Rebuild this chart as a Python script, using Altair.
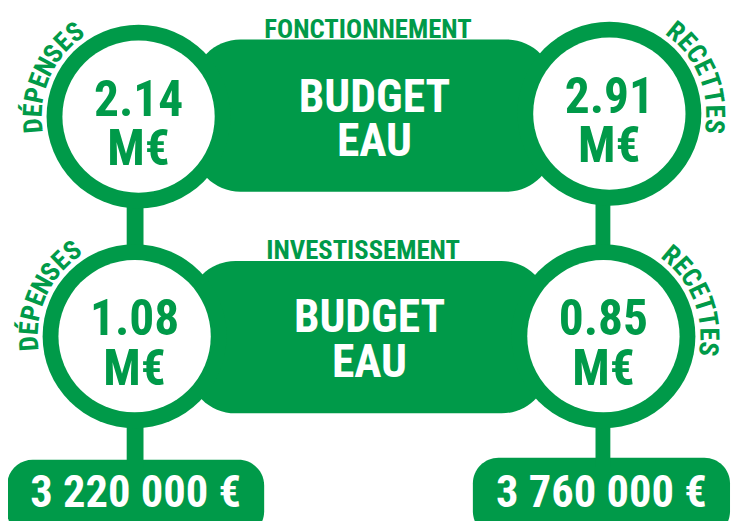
import math
import altair as alt
import pandas as pd

GREEN = "#009a49"
FONT = "Liberation Sans Narrow, Roboto Condensed, DejaVu Sans Condensed, sans-serif"

# ---- content ----
values = ["2.14", "2.91", "1.08", "0.85"]
unit = "M€"
side_words = ["DÉPENSES", "RECETTES", "DÉPENSES", "RECETTES"]
sections = ["FONCTIONNEMENT", "INVESTISSEMENT"]
budget_lines = ["BUDGET", "EAU"]
totals = ["3 220 000 €", "3 760 000 €"]

# ---- layout (screen pixels) ----
circle_cx = [140, 616, 136, 610]
circle_cy = [115, 112, 337, 337]
R_OUT, R_IN = 93, 77
arc_start = [265, 39, 266, 40]
arc_end = [323, 97, 324, 97]
ARC_R = 106

pill_x = [195, 190]
pill_x2 = [560, 555]
pill_y = [37, 261]
pill_y2 = [191, 415]

total_x = [7, 478]
total_x2 = [267, 738]
total_y = [462, 460]

conn = pd.DataFrame({
    "x": [128, 602, 128, 602],
    "x2": [145, 617, 145, 617],
    "y": [200, 200, 420, 420],
    "y2": [250, 250, 470, 470],
})

X = alt.Scale(domain=[8, 732], range=[0, 724], nice=False, zero=False)
Y = alt.Scale(domain=[8, 513], range=[0, 505], nice=False, zero=False)


def xy(df_x="x", df_y="y"):
    return dict(x=alt.X(f"{df_x}:Q", scale=X, axis=None),
                y=alt.Y(f"{df_y}:Q", scale=Y, axis=None))


pills = pd.DataFrame({"x": pill_x, "x2": pill_x2, "y": pill_y, "y2": pill_y2})
pill_layer = alt.Chart(pills).mark_rect(color=GREEN, cornerRadius=48).encode(
    **xy(), x2="x2:Q", y2="y2:Q")

tot = pd.DataFrame({"x": total_x, "x2": total_x2, "y": total_y,
                    "y2": [540, 540], "label": totals,
                    "tx": [(a + b) / 2 for a, b in zip(total_x, total_x2)],
                    "ty": [510, 510]})
tot_layer = alt.Chart(tot).mark_rect(color=GREEN, cornerRadius=26).encode(
    **xy(), x2="x2:Q", y2="y2:Q")
tot_text = alt.Chart(tot).mark_text(font=FONT, fontWeight="bold", fontSize=45,
                                    color="white", align="center",
                                    baseline="alphabetic").encode(
    **xy("tx", "ty"), text="label:N")

conn_layer = alt.Chart(conn).mark_rect(color=GREEN).encode(
    **xy(), x2="x2:Q", y2="y2:Q")

circ = pd.DataFrame({"x": circle_cx, "y": circle_cy, "value": values})
outer = alt.Chart(circ).mark_circle(color=GREEN, opacity=1,
                                    size=(2 * R_OUT) ** 2).encode(**xy())
inner = alt.Chart(circ).mark_circle(color="white", opacity=1,
                                    size=(2 * R_IN) ** 2).encode(**xy())

vals = pd.DataFrame({
    "x": circle_cx * 2,
    "y": [c - 1 for c in circle_cy] + [c + 49 for c in circle_cy],
    "t": values + [unit] * 4,
})
val_text = alt.Chart(vals).mark_text(font=FONT, fontWeight="bold", fontSize=50,
                                     color=GREEN, align="center",
                                     baseline="alphabetic").encode(
    **xy(), text="t:N")

bud = pd.DataFrame({
    "x": [(pill_x[0] + pill_x2[0]) / 2 + 1] * 2 + [(pill_x[1] + pill_x2[1]) / 2 + 1] * 2,
    "y": [110, 155, 333, 378],
    "t": budget_lines * 2,
})
bud_text = alt.Chart(bud).mark_text(font=FONT, fontWeight="bold", fontSize=46,
                                    color="white", align="center",
                                    baseline="alphabetic").encode(
    **xy(), text="t:N")

sec = pd.DataFrame({"x": [372, 367], "y": [35, 259], "t": sections})
sec_text = alt.Chart(sec).mark_text(font=FONT, fontWeight="bold", fontSize=27,
                                    color=GREEN, align="center",
                                    baseline="alphabetic").encode(
    **xy(), text="t:N")

rows = []
for cx, cy, a0, a1, word in zip(circle_cx, circle_cy, arc_start, arc_end, side_words):
    n = len(word)
    for i, ch in enumerate(word):
        phi = a0 + i * (a1 - a0) / (n - 1)
        rad = math.radians(phi)
        rows.append({"x": cx + ARC_R * math.sin(rad),
                     "y": cy - ARC_R * math.cos(rad),
                     "angle": phi % 360, "t": ch})
letters = pd.DataFrame(rows)
arc_text = alt.Chart(letters).mark_text(font=FONT, fontWeight="bold", fontSize=27,
                                        color=GREEN, align="center",
                                        baseline="middle").encode(
    **xy(), text="t:N", angle=alt.Angle("angle:Q", scale=None))

chart = alt.layer(
    pill_layer, tot_layer, conn_layer, outer, inner,
    val_text, bud_text, sec_text, arc_text, tot_text,
).properties(
    width=724, height=505, autosize="none",
    padding={"left": 0, "top": 0, "right": 8, "bottom": 8},
).configure_view(strokeWidth=0)

chart.save("out.html", embed_options={"renderer": "svg", "actions": False})
